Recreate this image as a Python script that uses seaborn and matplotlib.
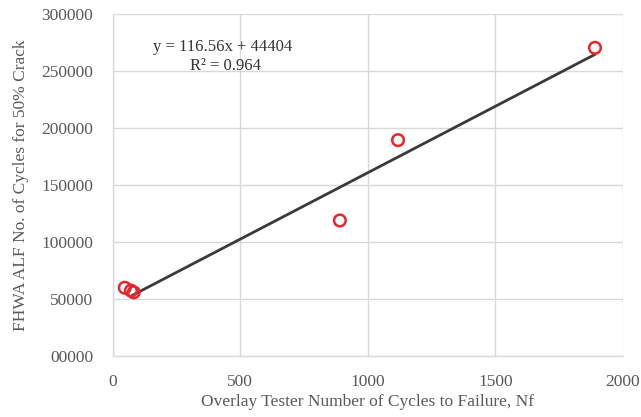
import numpy as np
import pandas as pd
import matplotlib.pyplot as plt
import seaborn as sns

# data
ot_cycles = [47, 71, 82, 890, 1118, 1890]
alf_cycles = [60000, 57500, 56000, 119000, 189500, 270500]
slope, intercept = 116.56, 44404
r_squared = 0.964

x_ticks = [0, 500, 1000, 1500, 2000]
y_ticks = [0, 50000, 100000, 150000, 200000, 250000, 300000]
y_tick_labels = ['00000', '50000', '100000', '150000', '200000', '250000', '300000']

sns.set_style("whitegrid")
plt.rcParams['font.family'] = ['Liberation Serif', 'DejaVu Serif']

df = pd.DataFrame({'Nf': ot_cycles, 'ALF': alf_cycles})
fit_x = np.array([min(ot_cycles) + 30, max(ot_cycles)])
fit = pd.DataFrame({'Nf': fit_x, 'ALF': slope * fit_x + intercept})

fig = plt.figure(figsize=(6.41, 4.17), dpi=100)
ax = fig.add_axes([0.176, 0.146, 0.796, 0.82])

sns.lineplot(data=fit, x='Nf', y='ALF', color='#3a3a3a', linewidth=2, ax=ax)
sns.scatterplot(data=df, x='Nf', y='ALF', marker='o', s=70,
                facecolors='none', edgecolor='#e8262b', linewidth=1.8,
                zorder=3, ax=ax)

text_color = '#595959'
ax.set_xlim(0, 2000)
ax.set_ylim(0, 300000)
ax.set_xticks(x_ticks)
ax.set_yticks(y_ticks)
ax.set_yticklabels(y_tick_labels)
ax.tick_params(axis='both', labelsize=12.5, colors=text_color, length=0)
ax.tick_params(axis='x', pad=13)
ax.tick_params(axis='y', pad=14)
ax.set_xlabel('Overlay Tester Number of Cycles to Failure, Nf',
              fontsize=12.5, color=text_color, labelpad=3)
ax.set_ylabel('FHWA ALF No. of Cycles for 50% Crack',
              fontsize=12.5, color=text_color, labelpad=9)

ax.grid(True, color='#d9d9d9', linewidth=1)
for side in ['top', 'right']:
    ax.spines[side].set_visible(False)
for side in ['left', 'bottom']:
    ax.spines[side].set_color('#d9d9d9')
    ax.spines[side].set_linewidth(1)

ax.text(430, 271500, f'y = {slope}x + {intercept}', ha='center', va='center',
        fontsize=12, color='#333333')
ax.text(440, 254500, f'R² = {r_squared}', ha='center', va='center',
        fontsize=12, color='#333333')

plt.savefig('out.png', dpi=100)
